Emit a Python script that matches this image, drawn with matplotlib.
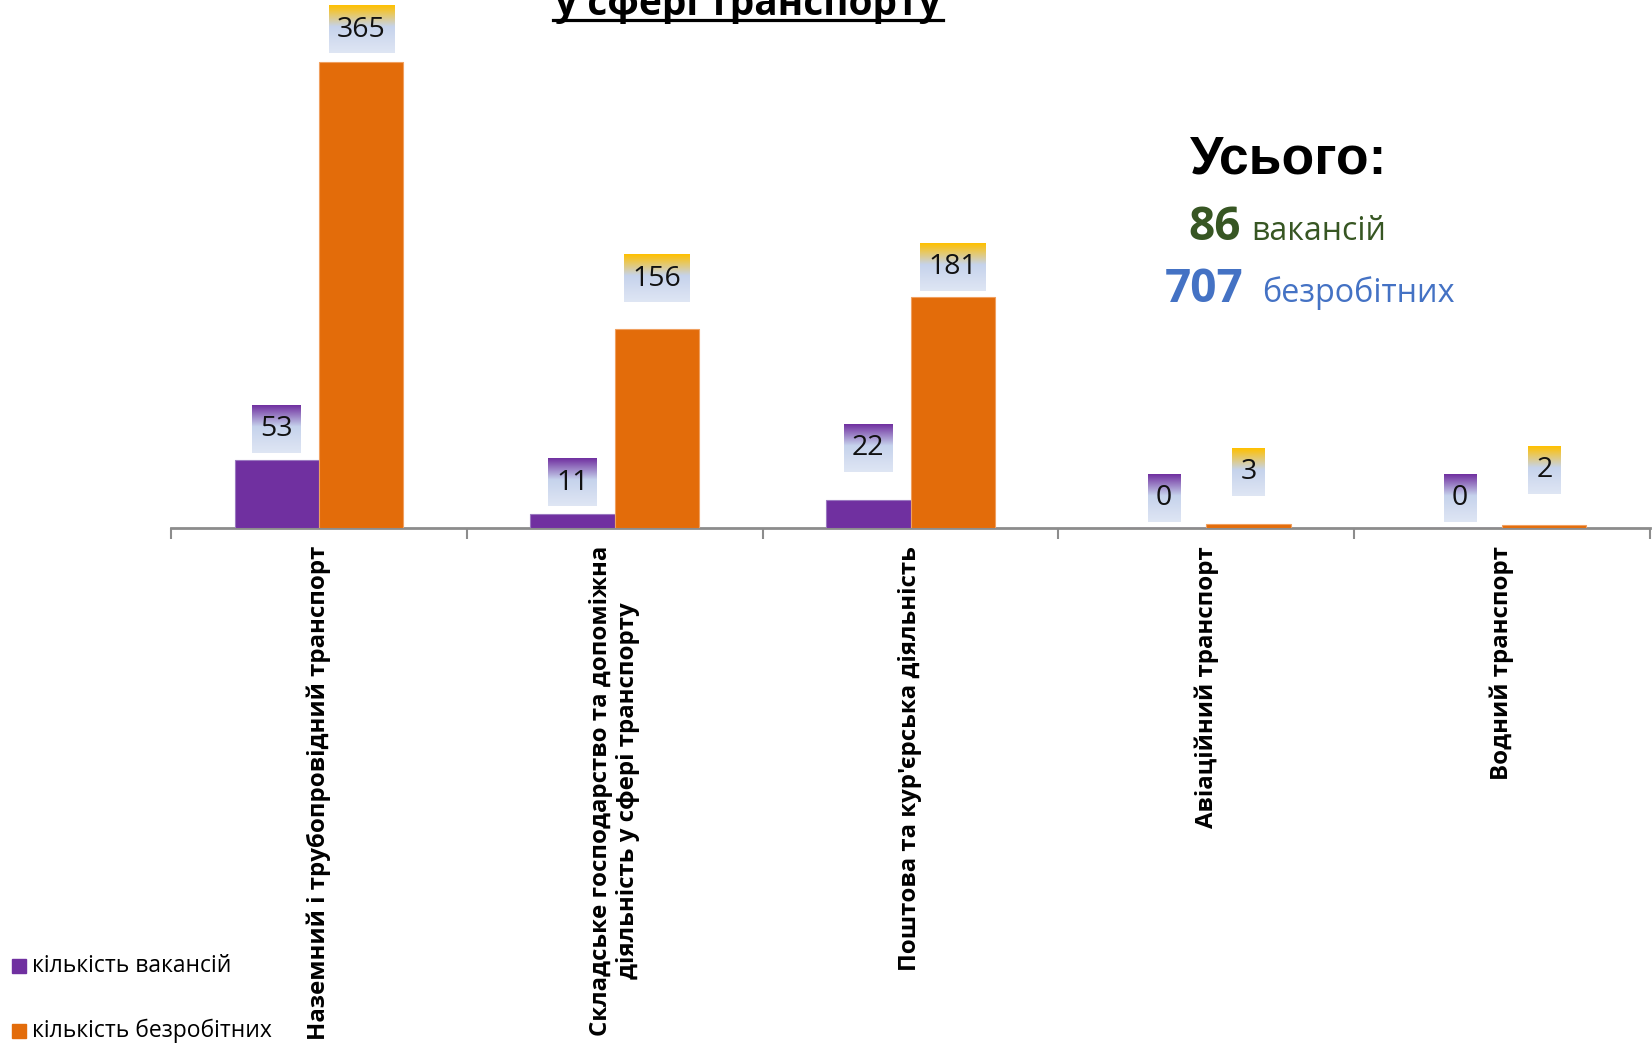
import numpy as np
import matplotlib
matplotlib.use("Agg")
import matplotlib.pyplot as plt
from matplotlib.colors import to_rgb
from matplotlib.lines import Line2D
from matplotlib.patches import Rectangle

plt.rcParams['font.family'] = ['Open Sans', 'DejaVu Sans']

categories = ["Наземний і трубопровідний транспорт",
              "Складське господарство та допоміжна\nдіяльність у сфері транспорту",
              "Поштова та кур'єрська діяльність",
              "Авіаційний транспорт",
              "Водний транспорт"]
vacancies = [53, 11, 22, 0, 0]
unemployed = [365, 156, 181, 3, 2]
series_names = ["кількість вакансій", "кількість безробітних"]
total_vac = 86
total_unemp = 707

purple = "#7030A0"
orange = "#E36C0A"
yellow = "#FFC000"

# label gap above bars (data units), as placed in the original
vac_gap = [6, 6, 22, 5, 5]
unemp_gap = [7, 21, 5, 22, 25]


def gradient_box(ax, xc, ybot, ndig, top_col):
    w = 0.055 * (ndig + 1)
    h = 37
    n = 100
    t = np.linspace(0, 1, n)
    c_top = np.array(to_rgb(top_col))
    c_mid = np.array(to_rgb("#C6D3EC"))
    c_bot = np.array(to_rgb("#DFE6F4"))
    img = np.zeros((n, 1, 3))
    for i, v in enumerate(t):
        if v < 0.45:
            f = v / 0.45
            img[i, 0] = c_top * (1 - f) + c_mid * f
        else:
            f = (v - 0.45) / 0.55
            img[i, 0] = c_mid * (1 - f) + c_bot * f
    ax.imshow(img, extent=(xc - w / 2, xc + w / 2, ybot, ybot + h),
              aspect='auto', origin='upper', zorder=4, clip_on=False,
              interpolation='bilinear')
    return ybot + h / 2


fig = plt.figure(figsize=(16.52, 10.44), dpi=100)
ax = fig.add_axes([171 / 1652, 1 - 528 / 1044, 1479 / 1652, 527 / 1044])

x = np.arange(len(categories)) + 0.5
bw = 0.285
ax.bar(x - bw / 2, vacancies, bw, color=purple, edgecolor="#9A78C0", linewidth=0.8, zorder=3)
ax.bar(x + bw / 2, unemployed, bw, color=orange, edgecolor="#F0A060", linewidth=0.8, zorder=3)

for i in range(len(categories)):
    yc = gradient_box(ax, x[i] - bw / 2, vacancies[i] + vac_gap[i], len(str(vacancies[i])), purple)
    ax.text(x[i] - bw / 2, yc, str(vacancies[i]), ha='center', va='center',
            fontsize=20.5, color='#111111', zorder=5)
    yc = gradient_box(ax, x[i] + bw / 2, unemployed[i] + unemp_gap[i], len(str(unemployed[i])), yellow)
    ax.text(x[i] + bw / 2, yc, str(unemployed[i]), ha='center', va='center',
            fontsize=20.5, color='#111111', zorder=5)

ax.set_xlim(0, len(categories))
ax.set_ylim(0, 413)
ax.set_xticks(np.arange(len(categories) + 1))
ax.set_xticklabels([])
ax.tick_params(axis='x', direction='out', length=8, width=1.5, color='#8C8C8C')
ax.set_yticks([])
for s in ['left', 'right', 'top']:
    ax.spines[s].set_visible(False)
ax.spines['bottom'].set_color('#8C8C8C')
ax.spines['bottom'].set_linewidth(2)
ax.patch.set_alpha(0)

for i, lab in enumerate(categories):
    ax.annotate(lab, xy=(x[i], 0), xycoords='data', xytext=(0, -13),
                textcoords='offset points', rotation=90, ha='center', va='top',
                multialignment='center', fontsize=17.3, fontweight='bold')

# clipped title
fig.text(748 / 1652, 1 - 15 / 1044, "у сфері транспорту", ha='center', va='baseline',
         fontsize=28, fontweight='bold')
fig.add_artist(Line2D([553 / 1652, 943 / 1652], [1 - 20 / 1044, 1 - 20 / 1044],
                      color='black', linewidth=2.3, transform=fig.transFigure))

# totals
fig.text(1289 / 1652, 1 - 160 / 1044, "Усього:", ha='center', va='center',
         fontsize=38.5, fontweight='bold', family=['Liberation Sans', 'DejaVu Sans'])
fig.text(1241 / 1652, 1 - 240 / 1044, str(total_vac), ha='right', va='baseline',
         fontsize=33, fontweight='bold', color='#375623')
fig.text(1251 / 1652, 1 - 240 / 1044, "вакансій", ha='left', va='baseline',
         fontsize=23, color='#375623')
fig.text(1244 / 1652, 1 - 302 / 1044, str(total_unemp), ha='right', va='baseline',
         fontsize=33, fontweight='bold', color='#4472C4')
fig.text(1262 / 1652, 1 - 302 / 1044, "безробітних", ha='left', va='baseline',
         fontsize=23.3, color='#4472C4')

# legend
for j, (name, col) in enumerate(zip(series_names, [purple, orange])):
    yy = 1 - (966 + j * 65) / 1044
    fig.add_artist(Rectangle((12 / 1652, yy - 7 / 1044), 14 / 1652, 14 / 1044,
                             color=col, transform=fig.transFigure))
    fig.text(32 / 1652, yy, name, ha='left', va='center', fontsize=16.5)

fig.savefig("out.png", dpi=100)
